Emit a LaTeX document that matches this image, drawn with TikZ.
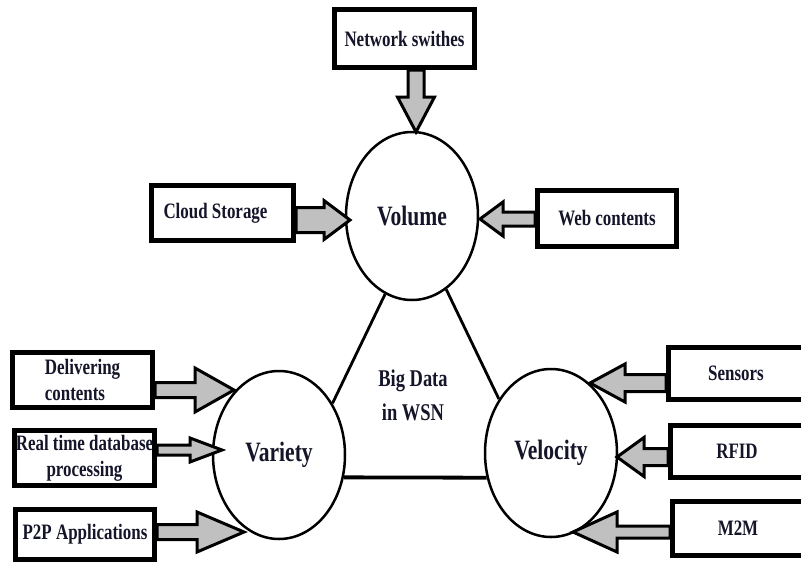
\documentclass[tikz,border=0pt]{standalone}
\usepackage{fontspec}
\setmainfont{Liberation Serif}[FakeStretch=0.77]
\usetikzlibrary{calc,shapes.geometric}
\pgfdeclarelayer{front}
\pgfsetlayers{main,front}
\definecolor{arrowgray}{HTML}{C0C0C0}
\definecolor{inkc}{HTML}{15152A}
\tikzset{
  lbl/.style={font=\bfseries\fontsize{22}{26}\selectfont, text=inkc},
  boxn/.style={lbl, draw, line width=5pt, fill=white, inner sep=0pt, align=center},
  vnode/.style={ellipse, draw, line width=2.5pt, minimum width=132pt, minimum height=168pt,
     inner sep=0pt, text=inkc, font=\bfseries\fontsize{28}{32}\selectfont},
  tri/.style={line width=2.8pt},
  barrow/.style={draw, line width=3pt, fill=arrowgray, line join=miter},
}
\newcommand\blockarrow[5]{%
  \coordinate (ba-h) at ($(#2)!#5pt!(#1)$);
  \draw[barrow] ($(#1)!#3pt!90:(#2)$) -- ($(ba-h)!#3pt!-90:(#1)$) -- ($(ba-h)!#4pt!-90:(#1)$)
     -- (#2) -- ($(ba-h)!#4pt!90:(#1)$) -- ($(ba-h)!#3pt!90:(#1)$) -- ($(#1)!#3pt!-90:(#2)$) -- cycle;
}
\begin{document}
\begin{tikzpicture}[x=1pt,y=-1pt]
\useasboundingbox (0,0) rectangle (801,563);
\fill[white] (0,0) rectangle (801,563);
\clip (0,0) rectangle (801,563);

% central ellipses
\node[vnode] (vol) at (412,216) {Volume};
\node[vnode] (var) at (279,455) {Variety};
\node[vnode] (vel) at (551,453) {Velocity};

% triangle
\draw[tri] (vol.251) -- (var.44);
\draw[tri] (vol.-65) -- (vel.134);
\draw[line width=3.8pt] (var.-19) -- (vel.201);

\node[align=center, text=inkc, font=\bfseries\fontsize{24}{34}\selectfont] (bd) at (413,395) {Big Data\\in WSN};

% boxes (drawn on the front layer, above the arrow tails)
\begin{pgfonlayer}{front}
\node[boxn, minimum width=140pt, minimum height=58pt] (ns) at (404.5,38.5) {Network swithes};
\node[boxn, minimum width=142pt, minimum height=55pt] (cs) at (222.5,213) {Cloud Storage\hspace*{14pt}};
\node[boxn, minimum width=139pt, minimum height=56pt] (web) at (607,218.5) {Web contents};
\node[boxn, minimum width=140pt, minimum height=55pt, align=left] (dc) at (82.5,380) {Delivering\\contents};
\node[boxn, minimum width=140pt, minimum height=55pt] (rt) at (84.5,458) {Real time database\\processing};
\node[boxn, minimum width=139pt, minimum height=50pt] (p2p) at (85,534.5) {P2P Applications};
\node[boxn, minimum width=135pt, minimum height=52pt] (sen) at (736,373.5) {Sensors};
\node[boxn, minimum width=133pt, minimum height=52pt] (rfid) at (737,451.5) {RFID};
\node[boxn, minimum width=131pt, minimum height=54pt] (m2m) at (738,528.5) {M2M};
\end{pgfonlayer}

% arrow tips and tails
\coordinate (tp-ns) at ($(vol.center)+(4,-84)$);
\coordinate (tl-ns) at (tp-ns |- ns.south);
\coordinate (tp-cs) at ($(vol.center)+(-62,4)$);
\coordinate (tl-cs) at (tp-cs -| cs.east);
\coordinate (tp-web) at ($(vol.center)+(68,3)$);
\coordinate (tl-web) at (tp-web -| web.west);
\coordinate (tp-dc) at ($(var.center)+(-45,-65)$);
\coordinate (tl-dc) at (tp-dc -| dc.east);
\coordinate (tp-rt) at ($(var.center)+(-57,-5)$);
\coordinate (tl-rt) at (tp-rt -| rt.east);
\coordinate (tp-p2p) at ($(var.center)+(-35,77)$);
\coordinate (tl-p2p) at (tp-p2p -| p2p.east);
\coordinate (tp-sen) at ($(vel.center)+(39,-70)$);
\coordinate (tl-sen) at (tp-sen -| sen.west);
\coordinate (tp-rfid) at ($(vel.center)+(66,4)$);
\coordinate (tl-rfid) at (tp-rfid -| rfid.west);
\coordinate (tp-m2m) at ($(vel.center)+(22,79)$);
\coordinate (tl-m2m) at (tp-m2m -| m2m.west);

\blockarrow{tl-ns}{tp-ns}{8}{18.5}{35}
\blockarrow{tl-cs}{tp-cs}{12.5}{19.5}{26}
\blockarrow{tl-web}{tp-web}{7}{17}{23}
\blockarrow{tl-dc}{tp-dc}{7.5}{22}{39}
\blockarrow{tl-rt}{tp-rt}{5}{12}{32}
\blockarrow{tl-p2p}{tp-p2p}{7.5}{20}{47}
\blockarrow{tl-sen}{tp-sen}{8.5}{19}{35}
\blockarrow{tl-rfid}{tp-rfid}{8.5}{19.5}{27}
\blockarrow{tl-m2m}{tp-m2m}{6}{20}{44}
\end{tikzpicture}
\end{document}
